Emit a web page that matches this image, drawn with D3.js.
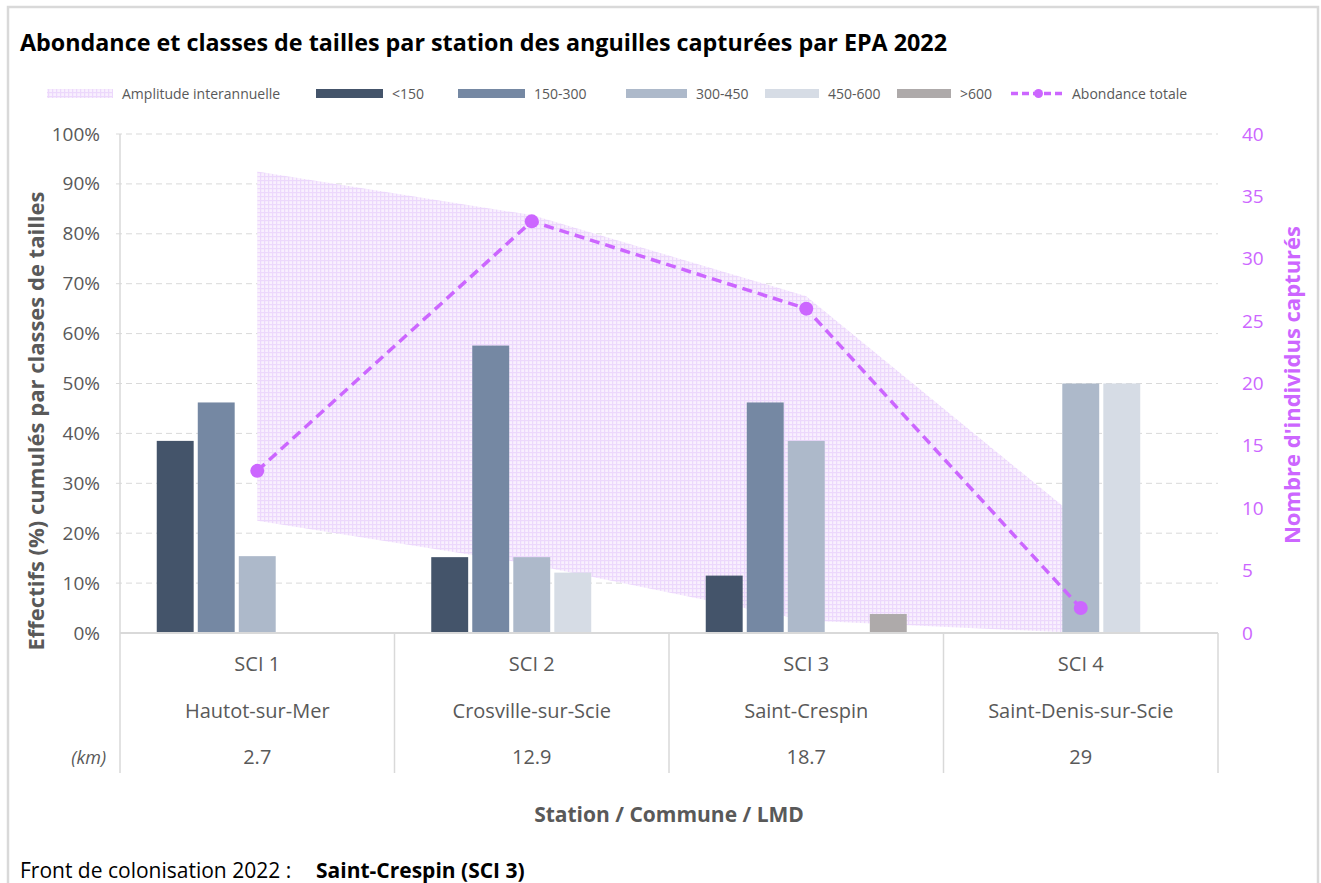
<!DOCTYPE html>
<html>
<head>
<meta charset="utf-8">
<script src="https://cdn.jsdelivr.net/npm/d3@7"></script>
<style>
body { margin: 0; background: #fff; }
text { font-family: 'Open Sans', sans-serif; }
</style>
</head>
<body>
<div id="graph"></div>
<script>
var stations = ['SCI 1', 'SCI 2', 'SCI 3', 'SCI 4'];
var communes = ['Hautot-sur-Mer', 'Crosville-sur-Scie', 'Saint-Crespin', 'Saint-Denis-sur-Scie'];
var distances = ['2.7', '12.9', '18.7', '29'];
var classes = ['<150', '150-300', '300-450', '450-600', '>600'];
var classColors = ['#44546a', '#7588a3', '#adb9ca', '#d6dce5', '#aeaaaa'];
// % par classe de taille, une valeur par station
var pctLt150 = [38.5, 15.2, 11.5, 0];
var pct150_300 = [46.2, 57.6, 46.2, 0];
var pct300_450 = [15.4, 15.2, 38.5, 50];
var pct450_600 = [0, 12.1, 0, 50];
var pctGt600 = [0, 0, 3.8, 0];
var abondance = [13, 33, 26, 2];
var amplitudeMax = [37, 33.5, 27, 9];
var amplitudeMin = [9, 5.5, 1, 0];
var leftTicks = [0, 10, 20, 30, 40, 50, 60, 70, 80, 90, 100];
var rightTicks = [0, 5, 10, 15, 20, 25, 30, 35, 40];

var seriesPct = [pctLt150, pct150_300, pct300_450, pct450_600, pctGt600];
var purple = '#cc66ff',
    grey = '#595959';

var width = 1321,
    height = 883;
var plotLeft = 120, plotRight = 1218, plotTop = 134, plotBottom = 633, tableBottom = 773;

var svg = d3.select('#graph')
    .append('svg')
        .attr('width', width)
        .attr('height', height);

var defs = svg.append('defs');
var pat = defs.append('pattern')
    .attr('id', 'amp')
    .attr('patternUnits', 'userSpaceOnUse')
    .attr('width', 4)
    .attr('height', 4);
pat.append('rect').attr('width', 4).attr('height', 4).attr('fill', '#f9f0fe');
pat.append('rect').attr('width', 4).attr('height', 1.2).attr('fill', '#ecd8fc');
pat.append('rect').attr('width', 1.2).attr('height', 4).attr('fill', '#ecd8fc');

// frame
svg.append('rect')
    .attr('x', 8).attr('y', 7)
    .attr('width', 1310).attr('height', 890)
    .attr('fill', 'none')
    .attr('stroke', '#d9d9d9')
    .attr('stroke-width', 2.5);

var x = d3.scaleBand()
    .domain(stations)
    .range([plotLeft, plotRight]);

var xInner = d3.scaleBand()
    .domain(classes)
    .range([0, 201])
    .paddingInner(0.1);

var y = d3.scaleLinear()
    .domain([0, 100])
    .range([plotBottom, plotTop]);

var y2 = d3.scaleLinear()
    .domain([0, 40])
    .range([plotBottom, plotTop]);

function cx(i) { return x(stations[i]) + x.bandwidth() / 2; }

// gridlines
svg.append('g')
    .selectAll('line')
    .data(leftTicks.slice(1))
    .enter().append('line')
    .attr('x1', plotLeft - 4)
    .attr('x2', plotRight)
    .attr('y1', function(d) { return y(d); })
    .attr('y2', function(d) { return y(d); })
    .attr('stroke', '#d9d9d9')
    .attr('stroke-width', 1)
    .attr('stroke-dasharray', '6,4');

// amplitude interannuelle
var area = d3.area()
    .x(function(d, i) { return cx(i); })
    .y0(function(d, i) { return y2(amplitudeMin[i]); })
    .y1(function(d) { return y2(d); });
svg.append('path')
    .datum(amplitudeMax)
    .attr('d', area)
    .attr('fill', 'url(#amp)');

// bars
var groups = svg.append('g')
    .selectAll('g')
    .data(stations)
    .enter().append('g')
    .attr('transform', function(d, i) { return 'translate(' + (cx(i) - 100.5) + ',0)'; });

groups.selectAll('rect')
    .data(function(d, i) { return classes.map(function(c, k) { return { c: c, v: seriesPct[k][i], k: k }; }); })
    .enter().append('rect')
    .attr('x', function(d) { return xInner(d.c); })
    .attr('width', xInner.bandwidth())
    .attr('y', function(d) { return y(d.v); })
    .attr('height', function(d) { return plotBottom - y(d.v); })
    .attr('fill', function(d) { return classColors[d.k]; });

// abondance totale
var line = d3.line()
    .x(function(d, i) { return cx(i); })
    .y(function(d) { return y2(d); });
svg.append('path')
    .datum(abondance)
    .attr('d', line)
    .attr('fill', 'none')
    .attr('stroke', purple)
    .attr('stroke-width', 3.5)
    .attr('stroke-dasharray', '10,6');
svg.append('g')
    .selectAll('circle')
    .data(abondance)
    .enter().append('circle')
    .attr('cx', function(d, i) { return cx(i); })
    .attr('cy', function(d) { return y2(d); })
    .attr('r', 7)
    .attr('fill', purple);

// axis lines and category table
var axisColor = '#d9d9d9';
svg.append('line')
    .attr('x1', plotLeft).attr('x2', plotLeft)
    .attr('y1', plotTop).attr('y2', tableBottom)
    .attr('stroke', axisColor).attr('stroke-width', 1.5);
svg.append('line')
    .attr('x1', plotLeft).attr('x2', plotRight)
    .attr('y1', plotBottom).attr('y2', plotBottom)
    .attr('stroke', axisColor).attr('stroke-width', 2);
svg.append('g')
    .selectAll('line')
    .data(stations)
    .enter().append('line')
    .attr('x1', function(d) { return x(d) + x.bandwidth(); })
    .attr('x2', function(d) { return x(d) + x.bandwidth(); })
    .attr('y1', plotBottom).attr('y2', tableBottom)
    .attr('stroke', axisColor).attr('stroke-width', 1.5);

// left axis
var yAxis = d3.axisLeft(y)
    .tickValues(leftTicks)
    .tickSize(0)
    .tickPadding(20)
    .tickFormat(function(d) { return d + '%'; });
var gy = svg.append('g')
    .attr('transform', 'translate(' + plotLeft + ',0)')
    .call(yAxis);
gy.select('.domain').remove();
gy.selectAll('text')
    .style('font-size', '19px')
    .style('fill', grey)
    .style('font-family', "'Open Sans', sans-serif");

// right axis
var y2Axis = d3.axisRight(y2)
    .tickValues(rightTicks)
    .tickSize(0)
    .tickPadding(24);
var gy2 = svg.append('g')
    .attr('transform', 'translate(' + plotRight + ',0)')
    .call(y2Axis);
gy2.select('.domain').remove();
gy2.selectAll('text')
    .style('font-size', '19px')
    .style('fill', purple)
    .style('font-family', "'Open Sans', sans-serif");

// category labels
var rows = [stations, communes, distances];
var rowY = [671, 718, 764];
rows.forEach(function(row, r) {
    svg.append('g')
        .selectAll('text')
        .data(row)
        .enter().append('text')
        .attr('x', function(d, i) { return cx(i); })
        .attr('y', rowY[r])
        .attr('text-anchor', 'middle')
        .style('font-size', '20px')
        .style('fill', grey)
        .text(function(d) { return d; });
});
svg.append('text')
    .attr('x', 106)
    .attr('y', 764)
    .attr('text-anchor', 'end')
    .style('font-size', '18px')
    .style('font-style', 'italic')
    .style('fill', grey)
    .text('(km)');

// title
svg.append('text')
    .attr('x', 20)
    .attr('y', 51)
    .style('font-size', '23.3px')
    .style('font-weight', 'bold')
    .style('fill', '#000')
    .text('Abondance et classes de tailles par station des anguilles capturées par EPA 2022');

// y label
svg.append('text')
    .attr('transform', 'translate(44,421) rotate(-90)')
    .attr('text-anchor', 'middle')
    .style('font-size', '22px')
    .style('font-weight', 'bold')
    .style('fill', grey)
    .text('Effectifs (%) cumulés par classes de tailles');

// y2 label
svg.append('text')
    .attr('transform', 'translate(1300,385) rotate(-90)')
    .attr('text-anchor', 'middle')
    .style('font-size', '22px')
    .style('font-weight', 'bold')
    .style('fill', purple)
    .text("Nombre d'individus capturés");

// x label
svg.append('text')
    .attr('x', 669)
    .attr('y', 822)
    .attr('text-anchor', 'middle')
    .style('font-size', '21px')
    .style('font-weight', 'bold')
    .style('fill', grey)
    .text('Station / Commune / LMD');

svg.append('text')
    .attr('x', 20)
    .attr('y', 878)
    .style('font-size', '21px')
    .style('fill', '#000')
    .text('Front de colonisation 2022 :');
svg.append('text')
    .attr('x', 316)
    .attr('y', 878)
    .style('font-size', '21px')
    .style('font-weight', 'bold')
    .style('fill', '#000')
    .text('Saint-Crespin (SCI 3)');

// legend
var legendItems = [
    { label: 'Amplitude interannuelle', type: 'pattern', x: 47, w: 66 },
    { label: classes[0], type: 'bar', color: classColors[0], x: 316, w: 67 },
    { label: classes[1], type: 'bar', color: classColors[1], x: 458, w: 67 },
    { label: classes[2], type: 'bar', color: classColors[2], x: 626, w: 61 },
    { label: classes[3], type: 'bar', color: classColors[3], x: 765, w: 54 },
    { label: classes[4], type: 'bar', color: classColors[4], x: 897, w: 54 },
    { label: 'Abondance totale', type: 'line', x: 1011, w: 55 }
];
var legend = svg.append('g');
legendItems.forEach(function(it) {
    if (it.type == 'pattern') {
        legend.append('rect')
            .attr('x', it.x).attr('y', 89)
            .attr('width', it.w).attr('height', 9)
            .attr('fill', 'url(#amp)');
    } else if (it.type == 'bar') {
        legend.append('rect')
            .attr('x', it.x).attr('y', 89)
            .attr('width', it.w).attr('height', 9)
            .attr('fill', it.color);
    } else {
        legend.append('line')
            .attr('x1', it.x).attr('x2', it.x + it.w)
            .attr('y1', 93.5).attr('y2', 93.5)
            .attr('stroke', purple)
            .attr('stroke-width', 3.5)
            .attr('stroke-dasharray', '7,4');
        legend.append('circle')
            .attr('cx', it.x + it.w / 2).attr('cy', 93.5)
            .attr('r', 4.5)
            .attr('fill', purple);
    }
    legend.append('text')
        .attr('x', it.x + it.w + (it.type == 'line' ? 6 : 9))
        .attr('y', 98.5)
        .style('font-size', '14px')
        .style('fill', grey)
        .text(it.label);
});
</script>
</body>
</html>
